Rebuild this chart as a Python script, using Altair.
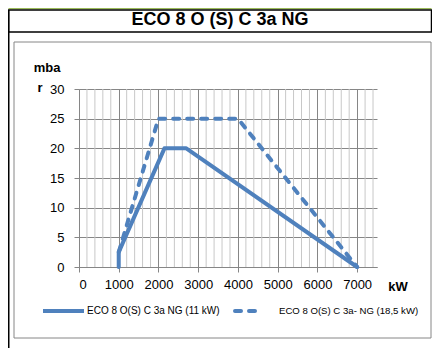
import altair as alt
import pandas as pd

# Data
solid_x = [1000, 1000, 2150, 2700, 7000]
solid_y = [0, 2.5, 20, 20, 0]
dashed_x = [1000, 2000, 4000, 7000]
dashed_y = [2.5, 25, 25, 0]
x_ticks = [0, 1000, 2000, 3000, 4000, 5000, 6000, 7000]
y_ticks = [0, 5, 10, 15, 20, 25, 30]
minor_x = [v for v in range(200, 7500, 200) if v % 1000 != 0]

title_text = "ECO 8 O (S) C 3a NG"
legend_solid = "ECO 8 O(S) C 3a NG (11 kW)"
legend_dashed = "ECO 8 O(S) C 3a- NG (18,5 kW)"

BLUE = "#4f81bd"
GRID = "#868686"
FONT = "Liberation Sans"

df_solid = pd.DataFrame({"x": solid_x, "y": solid_y, "i": range(len(solid_x))})
df_dashed = pd.DataFrame({"x": dashed_x, "y": dashed_y, "i": range(len(dashed_x))})
df_minor = pd.DataFrame({"x": minor_x})
dummy = pd.DataFrame({"a": [0]})

xscale = alt.Scale(domain=[0, 7500], nice=False, zero=False)
yscale = alt.Scale(domain=[0, 30], nice=False)

xaxis = alt.Axis(values=x_ticks, grid=True, gridColor=GRID, domainColor=GRID, tickColor=GRID,
                 tickSize=5, labelFontSize=13, labelFont=FONT, labelColor="black",
                 labelPadding=6, title=None, format="d", labelOverlap=False)
yaxis = alt.Axis(values=y_ticks, grid=True, gridColor=GRID, domainColor=GRID, tickColor=GRID,
                 tickSize=5, labelFontSize=13, labelFont=FONT, labelColor="black",
                 labelPadding=10, title=None)

minor = alt.Chart(df_minor).mark_rule(color="#c8c8c8", strokeWidth=1).encode(
    x=alt.X("x:Q", scale=xscale, axis=xaxis),
    y=alt.value(0), y2=alt.value(178),
)

line_solid = alt.Chart(df_solid).mark_line(color=BLUE, strokeWidth=4, strokeCap="round", strokeJoin="round").encode(
    x=alt.X("x:Q", scale=xscale, axis=xaxis),
    y=alt.Y("y:Q", scale=yscale, axis=yaxis),
    order="i:O",
)
line_dashed = alt.Chart(df_dashed).mark_line(color=BLUE, strokeWidth=4, strokeDash=[6, 8], strokeCap="round").encode(
    x=alt.X("x:Q", scale=xscale, axis=xaxis),
    y=alt.Y("y:Q", scale=yscale, axis=yaxis),
    order="i:O",
)

def rect(x, x2, y, y2, stroke, sw):
    return alt.Chart(dummy).mark_rect(fillOpacity=0, stroke=stroke, strokeWidth=sw).encode(
        x=alt.value(x), x2=alt.value(x2), y=alt.value(y), y2=alt.value(y2))

def rule(x, x2, y, y2, color, sw, dash=None):
    kw = dict(color=color, strokeWidth=sw)
    if dash:
        kw["strokeDash"] = dash
        kw["strokeCap"] = "round"
    return alt.Chart(dummy).mark_rule(**kw).encode(
        x=alt.value(x), x2=alt.value(x2), y=alt.value(y), y2=alt.value(y2))

def text(s, x, y, size, bold=False, align="center"):
    return alt.Chart(dummy).mark_text(fontSize=size, font=FONT, fontWeight="bold" if bold else "normal",
                                      align=align, baseline="middle", color="black").encode(
        x=alt.value(x), y=alt.value(y), text=alt.value(s))

green = rule(-70.5, 352.5, -80.5, -80.5, "#9bbb59", 1.5)
title_box = rect(-70.5, 352.5, -79, -57, "black", 1.5)
left_line = rule(-70.5, -70.5, -79, 259, "black", 2)
inner_box = rect(-65, 352, -47, 249, GRID, 1)

title = text(title_text, 141, -69, 18, bold=True)
ytitle1 = text("mba", -32, -21, 13, bold=True)
ytitle2 = text("r", -39, -1, 13, bold=True)
xtitle = text("kW", 319, 198, 13, bold=True)

leg1_line = rule(-36, 5, 222, 222, BLUE, 4)
leg1_text = text(legend_solid, 8, 222, 10, align="left")
leg2_line = rule(156, 182, 222, 222, BLUE, 4, dash=[6, 8])
leg2_text = text(legend_dashed, 200, 222, 9.6, align="left")

chart = alt.layer(
    minor, line_solid, line_dashed,
    green, title_box, left_line, inner_box,
    title, ytitle1, ytitle2, xtitle,
    leg1_line, leg1_text, leg2_line, leg2_text,
).properties(
    width=298, height=178,
    autosize=alt.AutoSizeParams(type="none"),
    padding={"left": 71, "top": 81, "right": 55, "bottom": 81},
    background="white",
).configure_view(stroke=None)

chart.save("out.html", embed_options={"renderer": "svg", "actions": False})
